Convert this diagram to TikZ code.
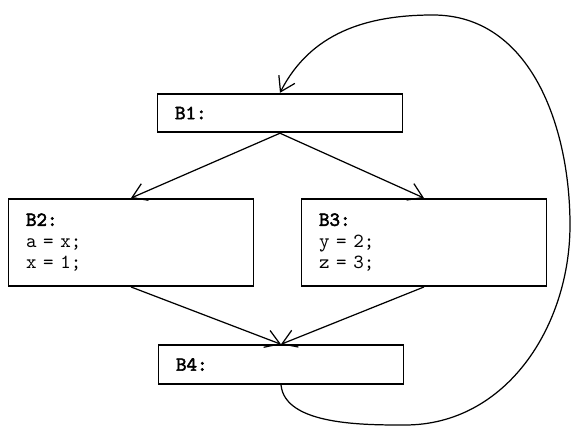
\documentclass[tikz,border=0pt]{standalone}
\usepackage{fontspec}
\setmonofont{lmmono10-regular.otf}[AutoFakeBold=2.5]
\usepackage{tikz}
\usetikzlibrary{arrows.meta}

\begin{document}
\begin{tikzpicture}[
  x=0.02cm, y=-0.02cm,
  block/.style={draw, line width=1.1pt, minimum width=4.9cm, minimum height=0.77cm,
    inner xsep=0.34cm, text width=4.2cm, align=left, font=\ttfamily\fontsize{11.4}{12.2}\selectfont},
  tall/.style={minimum height=1.74cm},
  >={Straight Barb[length=2.8mm, width=3.6mm, line width=0.7pt]},
  flow/.style={->, line width=0.7pt},
  back/.style={->, line width=0.7pt}
]
\useasboundingbox (0,0) rectangle (572,426);

% --- Bloki podstawowe ---
\node[block] (B1) at (280,113) {\textbf{B1:}};
\node[block, tall] (B2) at (131,242.5) {\textbf{B2:}\\a = x;\\x = 1;};
\node[block, tall] (B3) at (424,242.5) {\textbf{B3:}\\y = 2;\\z = 3;};
\node[block] (B4) at (281,364.5) {\textbf{B4:}};

% --- Krawedzie w przod ---
\draw[flow] (B1.south) -- (B2.north);
\draw[flow] (B1.south) -- (B3.north);
\draw[flow] (B2.south) -- (B4.north);
\draw[flow] (B3.south) -- (B4.north);

% --- Krawedz powrotna B4 -> B1 ---
\coordinate (low) at (405,425);
\coordinate (right) at (570,225);
\coordinate (top) at (433,15);
\draw[back] (B4.south) to[out=-85, in=180, looseness=0.8] (low)
  to[out=0, in=-90] (right)
  to[out=90, in=0] (top)
  to[out=180, in=63] (B1.north);

\end{tikzpicture}
\end{document}
